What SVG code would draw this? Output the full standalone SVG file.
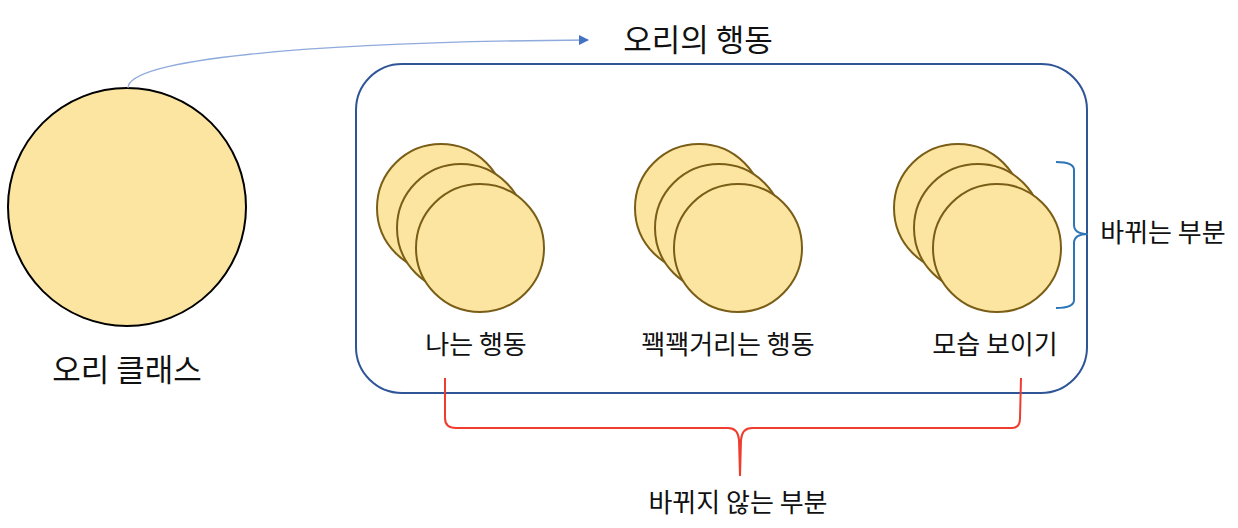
<svg xmlns="http://www.w3.org/2000/svg" width="1238" height="528" viewBox="0 0 1238 528">
<defs>
<style>
text{font-family:"Noto Sans CJK KR","Noto Sans",sans-serif;fill:#111;text-anchor:middle}
.big{font-size:31px}
.lbl{font-size:26px}
.coin{fill:#FBE5A1;stroke:#7A5E17;stroke-width:2}
</style>
<marker id="ah" viewBox="0 0 10 10" refX="9" refY="5" markerWidth="10" markerHeight="10" markerUnits="userSpaceOnUse" orient="auto"><path d="M0,0 L10,5 L0,10 z" fill="#4472C4"/></marker>
</defs>
<rect width="1238" height="528" fill="#fff"/>
<g id="duck-class">
<circle cx="127" cy="207" r="119" fill="#FBE5A1" stroke="#000" stroke-width="2"/>
<text class="big" x="127" y="381">오리 클래스</text>
</g>
<g id="behavior-box">
<rect x="356" y="64" width="731" height="329" rx="46" fill="none" stroke="#2F5597" stroke-width="2"/>
<text class="big" x="698" y="51">오리의 행동</text>
</g>
<g id="fly">
<circle class="coin" cx="441" cy="208" r="64"/>
<circle class="coin" cx="461" cy="228" r="64"/>
<circle class="coin" cx="480" cy="248" r="64"/>
<text class="lbl" x="476" y="354">나는 행동</text>
</g>
<g id="quack">
<circle class="coin" cx="699" cy="208" r="64"/>
<circle class="coin" cx="719" cy="228" r="64"/>
<circle class="coin" cx="738" cy="248" r="64"/>
<text class="lbl" x="728" y="354">꽥꽥거리는 행동</text>
</g>
<g id="display">
<circle class="coin" cx="958" cy="208" r="64"/>
<circle class="coin" cx="978" cy="228" r="64"/>
<circle class="coin" cx="997" cy="248" r="64"/>
<text class="lbl" x="995" y="354">모습 보이기</text>
</g>
<g id="changing">
<path d="M1056,162 Q1074,162 1074,170 L1074,225 Q1074,234 1088,234 Q1074,234 1074,243 L1074,300 Q1074,308 1056,308" fill="none" stroke="#2E75B6" stroke-width="2"/>
<text class="lbl" x="1163" y="242">바뀌는 부분</text>
</g>
<g id="unchanging">
<path d="M445,378 L445,418 Q445,428 456,428 L728,428 Q738,428 739,440 L740,476 M740,476 L741,440 Q742,428 752,428 L1012,428 Q1020,428 1020,418 L1021,378" fill="none" stroke="#F03C2E" stroke-width="2"/>
<text class="lbl" x="738" y="512">바뀌지 않는 부분</text>
</g>
<g id="connectors">
<path d="M128,88 C128,60 300,42 588,40" fill="none" stroke="#8FAADC" stroke-width="1.3" marker-end="url(#ah)"/>
</g>
</svg>
